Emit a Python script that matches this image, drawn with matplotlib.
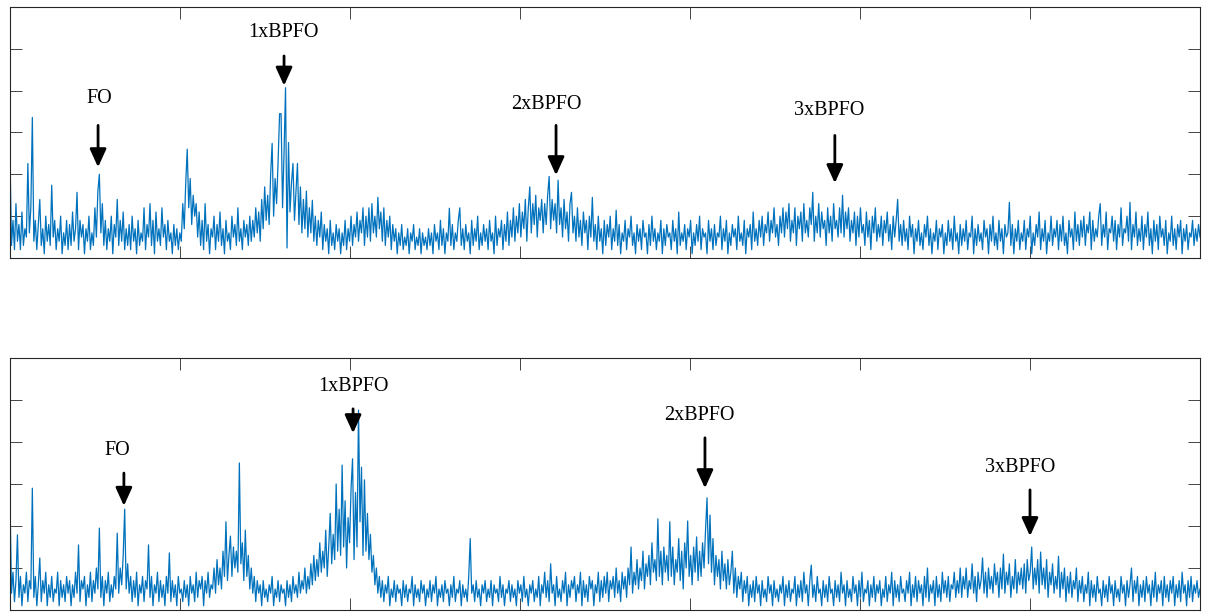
import numpy as np
import matplotlib
matplotlib.use("Agg")
import matplotlib.pyplot as plt

# Espectro de envolvente, panel superior
amp_a = [
    2.45, 0.3, 0.9, 0.2, 1.3, 0.4, 0.8, 0.2, 1.1, 0.3, 0.7, 0.5, 2.26, 0.6, 1.2, 3.36, 0.4, 0.9, 0.2, 0.8,
    1.4, 0.3, 0.7, 0.1, 1.0, 0.4, 0.8, 0.3, 1.74, 0.5, 0.9, 0.2, 0.7, 0.4, 1.0, 0.1, 0.6, 0.3, 0.9, 0.2,
    0.8, 0.3, 1.1, 0.4, 0.7, 1.57, 0.2, 0.9, 0.5, 0.8, 0.1, 0.7, 0.4, 1.0, 0.2, 0.6, 0.3, 1.2, 0.5, 1.6,
    2.0, 0.6, 1.3, 0.3, 0.9, 0.2, 0.7, 0.4, 1.0, 0.1, 0.8, 0.5, 1.4, 0.3, 0.9, 0.4, 1.1, 0.2, 0.7, 0.3,
    0.8, 0.2, 1.0, 0.4, 0.7, 0.1, 0.9, 0.3, 0.6, 0.4, 1.2, 0.2, 0.8, 0.5, 1.3, 0.3, 0.9, 0.1, 1.1, 0.4,
    0.7, 0.3, 1.2, 0.5, 0.8, 0.2, 0.9, 0.4, 0.6, 0.1, 0.8, 0.3, 0.7, 0.2, 0.6, 0.4, 1.3, 0.7, 1.8, 2.6,
    1.2, 1.9, 0.8, 1.5, 1.0, 1.3, 0.5, 1.1, 0.3, 0.9, 0.2, 1.3, 0.4, 0.8, 0.1, 0.7, 0.5, 1.0, 0.2, 0.8,
    0.4, 1.1, 0.3, 0.7, 0.1, 0.9, 0.4, 0.6, 0.2, 1.0, 0.5, 0.8, 0.3, 1.2, 0.4, 0.7, 0.2, 0.9, 0.5, 0.8,
    0.3, 1.0, 0.4, 0.9, 0.5, 1.2, 0.6, 1.1, 0.4, 1.4, 0.7, 1.7, 0.9, 1.5, 0.8, 2.0, 2.74, 1.0, 1.9, 1.3,
    2.3, 3.45, 3.45, 1.2, 2.5, 4.07, 0.24, 2.76, 1.1, 1.8, 2.26, 0.9, 1.6, 2.26, 0.8, 1.7, 0.6, 1.4, 0.7, 1.6,
    0.5, 1.2, 0.6, 1.38, 0.4, 1.0, 0.3, 0.9, 0.5, 1.1, 0.2, 0.8, 0.4, 0.7, 0.1, 0.9, 0.3, 0.6, 0.2, 0.8,
    0.4, 0.7, 0.1, 0.6, 0.3, 0.9, 0.2, 0.7, 0.4, 1.0, 0.3, 0.8, 0.5, 1.1, 0.4, 0.9, 0.6, 1.2, 0.3, 1.0,
    0.5, 1.2, 0.4, 1.3, 0.6, 1.0, 0.5, 1.45, 0.7, 1.1, 0.4, 1.2, 0.3, 0.9, 0.5, 1.0, 0.2, 0.8, 0.4, 0.7,
    0.1, 0.6, 0.3, 0.8, 0.2, 0.5, 0.3, 0.7, 0.1, 0.6, 0.4, 0.8, 0.2, 0.5, 0.3, 0.7, 0.1, 0.6, 0.3, 0.5,
    0.2, 0.7, 0.3, 0.6, 0.1, 0.8, 0.4, 0.6, 0.2, 0.9, 0.3, 0.7, 0.1, 0.6, 0.4, 1.19, 0.3, 0.8, 0.2, 0.6,
    0.4, 0.9, 1.2, 0.3, 0.7, 0.2, 0.8, 0.4, 0.6, 0.1, 0.9, 0.3, 0.7, 0.4, 1.0, 0.2, 0.6, 0.3, 0.8, 0.4,
    0.7, 0.2, 0.9, 0.4, 0.6, 0.1, 1.0, 0.3, 0.7, 0.5, 0.9, 0.2, 0.8, 0.4, 1.1, 0.3, 0.9, 0.5, 1.2, 0.4,
    1.0, 0.6, 1.3, 0.5, 1.1, 0.7, 1.4, 0.4, 1.2, 1.7, 0.6, 1.3, 0.8, 1.5, 0.5, 1.2, 0.9, 1.4, 0.6, 1.3,
    0.8, 1.5, 1.95, 0.7, 1.4, 0.9, 1.3, 0.6, 1.86, 0.8, 1.2, 0.5, 1.4, 0.7, 1.1, 0.4, 1.3, 1.57, 0.6, 1.0,
    0.4, 1.2, 0.5, 0.9, 0.3, 1.1, 0.6, 0.9, 0.2, 1.0, 0.5, 1.45, 0.4, 0.8, 0.2, 1.0, 0.4, 0.7, 0.1, 0.9,
    0.3, 0.8, 0.5, 1.0, 0.2, 0.7, 0.4, 1.14, 0.3, 0.8, 0.1, 0.6, 0.4, 0.9, 0.2, 0.7, 0.5, 1.0, 0.3, 0.6,
    0.1, 0.8, 0.4, 0.7, 0.2, 0.9, 0.5, 0.6, 0.1, 0.8, 0.3, 1.0, 0.4, 0.7, 0.2, 0.6, 0.4, 0.9, 0.1, 0.7,
    0.3, 0.8, 0.5, 0.6, 0.2, 0.9, 0.4, 0.7, 0.1, 1.1, 0.3, 0.6, 0.4, 0.8, 0.2, 0.7, 0.5, 0.9, 0.1, 0.6,
    0.3, 0.8, 0.4, 1.0, 0.2, 0.7, 0.5, 0.6, 0.1, 0.9, 0.4, 0.7, 0.2, 0.8, 0.3, 0.6, 0.5, 1.0, 0.2, 0.7,
    0.4, 0.9, 0.1, 0.6, 0.3, 0.8, 0.5, 0.7, 0.2, 1.0, 0.4, 0.6, 0.3, 0.9, 0.1, 0.7, 0.5, 0.8, 0.2, 1.1,
    0.4, 0.7, 0.3, 0.9, 0.5, 1.0, 0.3, 0.8, 0.6, 1.1, 0.4, 0.9, 0.6, 1.2, 0.5, 0.8, 0.3, 1.0, 0.6, 1.2,
    0.5, 1.1, 0.7, 1.3, 0.4, 0.9, 0.6, 1.2, 0.3, 1.0, 0.7, 1.1, 0.4, 1.3, 0.6, 0.9, 0.5, 1.2, 0.8, 1.57,
    0.4, 1.0, 0.6, 1.3, 0.5, 1.1, 0.7, 0.9, 0.3, 1.2, 0.6, 1.0, 0.4, 1.3, 0.7, 0.9, 0.5, 1.2, 0.6, 1.5,
    0.5, 1.1, 0.7, 1.2, 0.4, 0.9, 0.6, 1.1, 0.3, 1.0, 0.5, 1.2, 0.6, 0.8, 0.3, 1.1, 0.5, 0.9, 0.2, 1.0,
    0.6, 1.2, 0.4, 0.8, 0.5, 1.0, 0.3, 0.9, 0.6, 1.1, 0.4, 0.8, 0.2, 1.0, 0.5, 0.9, 1.4, 0.4, 0.8, 0.3,
    0.9, 0.4, 0.7, 0.2, 1.0, 0.5, 0.8, 0.1, 0.7, 0.4, 0.9, 0.3, 0.6, 0.2, 0.8, 0.5, 1.0, 0.3, 0.7, 0.1,
    0.6, 0.4, 0.9, 0.2, 0.7, 0.5, 0.8, 0.1, 0.6, 0.3, 0.9, 0.4, 0.7, 0.2, 1.0, 0.4, 0.6, 0.1, 0.8, 0.3,
    0.7, 0.4, 0.9, 0.2, 0.6, 0.5, 1.0, 0.1, 0.7, 0.3, 0.8, 0.4, 0.6, 0.2, 0.9, 0.5, 0.7, 0.1, 0.8, 0.4,
    1.0, 0.3, 0.6, 0.2, 0.9, 0.4, 0.7, 0.1, 0.8, 0.5, 0.6, 1.33, 0.3, 0.8, 0.1, 0.7, 0.4, 0.9, 0.2, 0.6,
    0.4, 0.9, 0.2, 0.7, 0.5, 1.0, 0.1, 0.6, 0.3, 0.8, 0.5, 1.1, 0.2, 0.7, 0.4, 0.9, 0.1, 0.6, 0.4, 1.0,
    0.3, 0.7, 0.5, 0.9, 0.2, 0.8, 0.4, 1.0, 0.3, 0.6, 0.1, 0.9, 0.5, 0.7, 0.2, 1.1, 0.4, 0.8, 0.3, 0.9,
    0.5, 1.0, 0.3, 0.8, 0.6, 1.1, 0.2, 0.9, 0.4, 0.7, 0.5, 1.0, 1.3, 0.3, 0.8, 0.5, 1.1, 0.2, 0.7, 0.6,
    1.0, 0.4, 0.9, 0.2, 0.8, 0.5, 1.2, 0.3, 0.7, 0.6, 1.0, 0.4, 1.33, 0.2, 0.8, 0.5, 1.1, 0.3, 0.7, 0.4,
    1.0, 0.2, 0.8, 0.5, 1.1, 0.3, 0.7, 0.1, 0.9, 0.4, 0.8, 0.2, 1.0, 0.5, 0.7, 0.3, 0.9, 0.1, 0.6, 0.4,
    1.0, 0.3, 0.7, 0.2, 0.8, 0.5, 0.9, 0.1, 0.7, 0.4, 0.8, 0.2, 0.6, 0.5, 0.9, 0.3, 0.7, 0.4, 0.8, 0.5,
]

# Panel inferior
amp_b = [
    2.6, 0.4, 0.9, 0.2, 0.7, 1.79, 0.3, 0.8, 0.1, 0.6, 0.4, 0.9, 0.2, 0.7, 0.5, 2.9, 0.3, 0.8, 0.1, 0.6,
    1.24, 0.2, 0.7, 0.4, 0.9, 0.1, 0.6, 0.3, 0.8, 0.2, 0.5, 0.4, 0.9, 0.1, 0.7, 0.3, 0.6, 0.2, 0.8, 0.4,
    0.7, 0.1, 0.6, 0.3, 0.9, 0.4, 1.55, 0.2, 0.7, 0.5, 0.8, 0.1, 0.6, 0.3, 0.9, 0.2, 0.7, 0.4, 1.0, 0.5,
    1.95, 0.3, 0.8, 0.1, 0.7, 0.4, 0.9, 0.2, 0.6, 0.3, 0.8, 0.5, 1.83, 0.4, 1.0, 0.6, 1.3, 2.4, 0.5, 1.1,
    0.4, 0.8, 0.2, 0.7, 0.3, 0.9, 0.1, 0.6, 0.4, 0.8, 0.2, 0.7, 0.5, 1.55, 0.3, 0.8, 0.1, 0.6, 0.4, 0.9,
    0.2, 0.7, 0.3, 0.6, 0.1, 0.8, 0.4, 1.36, 0.2, 0.7, 0.3, 0.6, 0.1, 0.8, 0.4, 0.5, 0.2, 0.7, 0.3, 0.6,
    0.1, 0.8, 0.4, 0.6, 0.2, 0.9, 0.3, 0.7, 0.5, 0.8, 0.1, 0.7, 0.4, 0.9, 0.3, 0.6, 0.5, 1.0, 0.4, 1.2,
    0.6, 1.0, 0.5, 1.4, 0.8, 2.1, 0.7, 1.3, 1.76, 0.8, 1.5, 1.0, 1.4, 0.9, 3.5, 1.1, 1.6, 0.7, 1.9, 0.8,
    1.3, 0.5, 1.0, 0.4, 0.8, 0.2, 0.7, 0.4, 0.6, 0.1, 0.7, 0.3, 0.5, 0.2, 0.6, 0.4, 0.8, 0.1, 0.5, 0.3,
    0.7, 0.2, 0.6, 0.4, 0.5, 0.1, 0.7, 0.3, 0.6, 0.2, 0.8, 0.4, 0.6, 0.3, 0.9, 0.4, 0.7, 0.5, 1.0, 0.4,
    0.8, 0.5, 1.1, 0.6, 1.3, 0.7, 1.2, 0.8, 1.6, 0.9, 1.4, 1.0, 1.9, 0.8, 1.5, 2.3, 1.1, 1.8, 1.2, 3.0,
    1.4, 2.4, 1.3, 3.45, 1.5, 2.6, 1.0, 2.2, 1.6, 2.9, 3.6, 1.2, 2.8, 1.5, 4.76, 2.1, 3.4, 1.3, 3.1, 1.4,
    2.3, 1.2, 1.8, 0.9, 1.3, 0.6, 1.0, 0.4, 0.8, 0.3, 0.7, 0.2, 0.6, 0.4, 0.8, 0.1, 0.5, 0.3, 0.7, 0.2,
    0.6, 0.4, 0.5, 0.1, 0.7, 0.3, 0.6, 0.2, 0.5, 0.4, 0.8, 0.1, 0.6, 0.3, 0.5, 0.2, 0.7, 0.4, 0.6, 0.1,
    0.5, 0.3, 0.7, 0.2, 0.6, 0.4, 0.8, 0.1, 0.5, 0.3, 0.6, 0.2, 0.7, 0.4, 0.5, 0.1, 0.6, 0.3, 0.8, 0.2,
    0.5, 0.4, 0.7, 0.1, 0.6, 0.3, 0.5, 0.2, 0.8, 1.7, 0.4, 0.6, 0.2, 0.7, 0.3, 0.5, 0.1, 0.6, 0.4, 0.7,
    0.2, 0.5, 0.3, 0.7, 0.1, 0.6, 0.4, 0.5, 0.2, 0.8, 0.3, 0.6, 0.1, 0.5, 0.4, 0.7, 0.2, 0.6, 0.3, 0.5,
    0.1, 0.7, 0.4, 0.6, 0.2, 0.8, 0.3, 0.5, 0.1, 0.6, 0.4, 0.7, 0.2, 0.5, 0.3, 0.8, 0.1, 0.6, 0.4, 0.9,
    0.3, 0.7, 0.2, 1.1, 0.4, 0.6, 0.1, 0.8, 0.3, 0.5, 0.2, 0.7, 0.4, 0.9, 0.1, 0.6, 0.3, 0.7, 0.5, 0.8,
    0.2, 0.6, 0.4, 0.9, 0.1, 0.7, 0.3, 0.6, 0.2, 0.8, 0.5, 0.7, 0.1, 0.6, 0.4, 0.9, 0.2, 0.7, 0.3, 0.8,
    0.4, 0.9, 0.2, 0.7, 0.5, 0.8, 0.3, 1.0, 0.4, 0.7, 0.2, 0.9, 0.5, 0.8, 0.3, 1.0, 0.6, 1.5, 0.4, 0.9,
    0.6, 1.2, 0.5, 1.0, 0.7, 1.4, 0.5, 1.1, 0.8, 1.3, 0.6, 1.6, 0.9, 1.2, 0.7, 2.17, 0.8, 1.4, 0.6, 1.5,
    0.9, 1.3, 0.7, 2.1, 0.8, 1.5, 0.6, 1.2, 0.9, 1.7, 0.7, 1.4, 0.5, 1.6, 1.0, 2.12, 0.8, 1.3, 0.6, 1.5,
    0.9, 1.74, 0.7, 1.4, 0.8, 1.6, 1.0, 1.9, 2.67, 1.1, 2.26, 0.9, 1.7, 0.6, 1.3, 0.8, 1.2, 0.5, 1.4, 0.7,
    1.1, 0.5, 1.2, 0.6, 0.9, 1.4, 0.4, 1.0, 0.3, 0.8, 0.5, 0.9, 0.2, 0.7, 0.4, 0.8, 0.1, 0.6, 0.3, 0.7,
    0.2, 0.8, 0.4, 0.6, 0.1, 0.7, 0.3, 0.5, 0.2, 0.8, 0.4, 0.6, 0.1, 0.7, 0.3, 0.5, 0.2, 0.6, 0.4, 0.8,
    0.1, 0.6, 0.3, 0.7, 0.2, 0.5, 0.4, 0.8, 0.1, 0.6, 0.3, 0.7, 0.2, 0.9, 0.4, 0.6, 0.1, 0.7, 1.07, 0.3,
    0.6, 0.2, 0.8, 0.4, 0.5, 0.1, 0.7, 0.3, 0.6, 0.2, 0.8, 0.4, 0.5, 0.1, 0.7, 0.3, 0.6, 0.2, 0.9, 0.4,
    0.6, 0.1, 0.7, 0.3, 0.5, 0.2, 0.8, 0.4, 0.6, 0.1, 0.7, 0.3, 0.9, 0.2, 0.5, 0.4, 0.7, 0.1, 0.6, 0.3,
    0.8, 0.2, 0.6, 0.4, 0.7, 0.1, 0.5, 0.3, 0.8, 0.2, 0.6, 0.4, 0.9, 0.1, 0.7, 0.3, 0.6, 0.2, 0.8, 0.4,
    0.5, 0.2, 0.7, 0.4, 0.9, 0.1, 0.6, 0.3, 0.8, 0.2, 0.7, 0.4, 0.6, 0.1, 0.8, 0.3, 1.0, 0.2, 0.6, 0.4,
    0.7, 0.1, 0.8, 0.3, 0.6, 0.2, 0.9, 0.4, 0.7, 0.3, 0.8, 0.2, 0.6, 0.5, 0.9, 0.3, 0.7, 0.4, 1.0, 0.3,
    0.8, 0.5, 1.0, 0.3, 0.7, 0.5, 1.1, 0.4, 0.8, 0.2, 0.9, 0.5, 0.7, 1.24, 0.4, 0.9, 0.3, 1.0, 0.5, 0.8,
    0.4, 1.1, 0.6, 0.9, 0.3, 1.0, 0.5, 1.33, 0.4, 0.9, 0.6, 1.1, 0.3, 0.8, 0.5, 1.2, 0.4, 0.9, 0.6, 1.0,
    0.5, 1.1, 0.4, 1.2, 0.7, 0.9, 1.5, 0.5, 1.0, 0.6, 1.2, 0.4, 1.38, 0.6, 1.0, 0.5, 1.2, 0.3, 0.9, 0.6,
    1.1, 0.4, 0.8, 0.5, 1.28, 0.3, 0.9, 0.5, 1.0, 0.2, 0.8, 0.4, 0.9, 0.3, 0.7, 0.5, 1.0, 0.2, 0.7, 0.4,
    0.8, 0.2, 0.6, 0.4, 0.9, 0.1, 0.7, 0.3, 0.6, 0.2, 0.8, 0.4, 0.5, 0.1, 0.7, 0.3, 0.6, 0.2, 0.8, 0.4,
    0.6, 0.1, 0.7, 0.3, 0.5, 0.2, 0.8, 0.4, 0.6, 0.1, 0.7, 0.3, 0.6, 1.0, 0.2, 0.7, 0.4, 0.8, 0.1, 0.6,
    0.3, 0.7, 0.2, 0.8, 0.4, 0.6, 0.1, 0.7, 0.3, 0.9, 0.2, 0.6, 0.4, 0.7, 0.1, 0.8, 0.3, 0.6, 0.2, 0.7,
    0.4, 0.8, 0.1, 0.6, 0.3, 0.7, 0.2, 0.9, 0.4, 0.6, 0.1, 0.7, 0.3, 0.8, 0.2, 0.6, 0.4, 0.7, 0.3, 0.5,
]

labels = ["FO", "1xBPFO", "2xBPFO", "3xBPFO"]

plt.rcParams['font.family'] = ['Liberation Serif', 'DejaVu Serif']
gray = '#262626'
blue = '#0072BD'

fig = plt.figure(figsize=(12.06, 6.12), dpi=100)
ax1 = fig.add_axes([10 / 1206, 354 / 612, 1190 / 1206, 251 / 612])
ax2 = fig.add_axes([10 / 1206, 2 / 612, 1190 / 1206, 252 / 612])

# (texto x, texto y, flecha x, cola y, punta y)
marks_a = [(26.2, 3.81, 25.9, 3.17, 2.17),
           (80.3, 5.38, 80.6, 4.83, 4.12),
           (157.9, 3.67, 160.6, 3.17, 1.98),
           (240.9, 3.52, 242.6, 2.93, 1.79)]
marks_b = [(31.5, 3.79, 33.5, 3.26, 2.48),
           (100.9, 5.31, 100.9, 4.79, 4.21),
           (202.9, 4.62, 204.4, 4.10, 2.90),
           (297.1, 3.40, 300.0, 2.86, 1.76)]

for ax, amp, marks in [(ax1, amp_a, marks_a), (ax2, amp_b, marks_b)]:
    freq = np.linspace(0, 350, len(amp))  # eje de frecuencia (Hz)
    ax.plot(freq, amp, color=blue, lw=0.9)
    ax.set_xlim(0, 350)
    ax.set_ylim(0, 6)
    ax.set_xticks(np.arange(0, 351, 50))
    ax.set_yticks(np.arange(0, 7, 1))
    ax.set_xticklabels([])
    ax.set_yticklabels([])
    ax.tick_params(direction='in', length=8.6, width=0.6, color=gray,
                   top=True, right=True)
    for s in ax.spines.values():
        s.set_color(gray)
        s.set_linewidth(0.8)
    for lab, (tx, ty, axx, y0, y1) in zip(labels, marks):
        ax.text(tx, ty, lab, ha='center', va='center', fontsize=14.5, color='k')
        ax.annotate('', xy=(axx, y1), xytext=(axx, y0),
                    arrowprops=dict(arrowstyle='-|>,head_length=0.55,head_width=0.25',
                                    lw=2, color='k', mutation_scale=20,
                                    shrinkA=0, shrinkB=0))

fig.savefig("out.png", dpi=100)
